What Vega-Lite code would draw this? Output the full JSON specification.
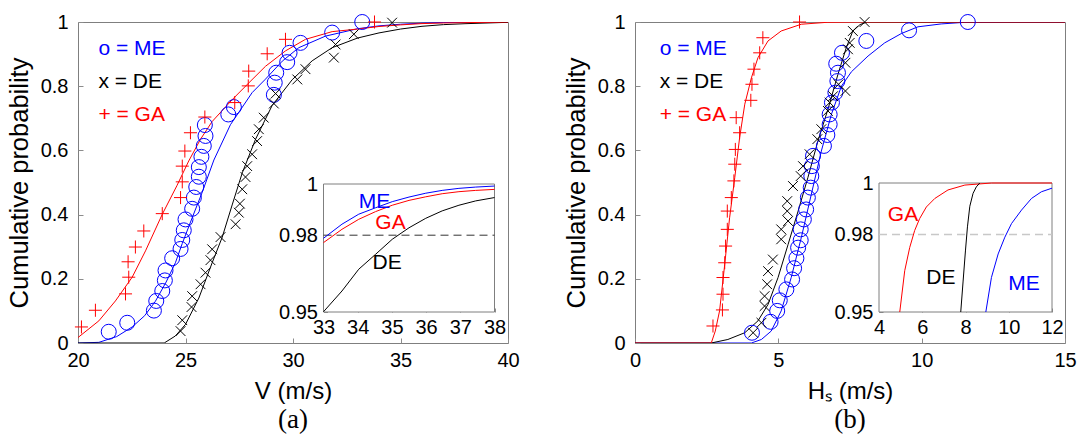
{
  "$schema": "https://vega.github.io/schema/vega-lite/v6.json",
  "background": "white",
  "padding": {"left": 6, "top": 11, "right": 0, "bottom": 0},
  "spacing": 43,
  "config": {
    "view": {"stroke": "#7f7f7f", "strokeWidth": 1},
    "axis": {"grid": false, "domain": false, "ticks": true, "tickSize": -5, "tickColor": "#8c8c8c", "labelFlush": false, "labelOverlap": false, "labelFont": "Liberation Sans", "labelFontSize": 20, "labelColor": "#000000", "titleFont": "Liberation Sans", "titleFontSize": 24, "titleFontWeight": "normal", "titleColor": "#000000"},
    "text": {"font": "Liberation Sans"}
  },
  "datasets": {
    "v_pts": [
      {"m":"ME","v":21.43,"p":0.035},{"m":"ME","v":22.29,"p":0.063},{"m":"ME","v":23.53,"p":0.101},{"m":"ME","v":23.64,"p":0.131},{"m":"ME","v":23.92,"p":0.162},{"m":"ME","v":24.04,"p":0.195},{"m":"ME","v":24.07,"p":0.226},{"m":"ME","v":24.38,"p":0.264},{"m":"ME","v":24.77,"p":0.293},{"m":"ME","v":24.85,"p":0.321},{"m":"ME","v":24.92,"p":0.351},{"m":"ME","v":25.0,"p":0.385},{"m":"ME","v":25.31,"p":0.418},{"m":"ME","v":25.39,"p":0.453},{"m":"ME","v":25.5,"p":0.486},{"m":"ME","v":25.62,"p":0.518},{"m":"ME","v":25.62,"p":0.548},{"m":"ME","v":25.74,"p":0.58},{"m":"ME","v":25.85,"p":0.614},{"m":"ME","v":25.93,"p":0.645},{"m":"ME","v":25.9,"p":0.679},{"m":"ME","v":26.99,"p":0.712},{"m":"ME","v":27.25,"p":0.735},{"m":"ME","v":29.11,"p":0.773},{"m":"ME","v":29.15,"p":0.811},{"m":"ME","v":29.22,"p":0.842},{"m":"ME","v":29.73,"p":0.875},{"m":"ME","v":29.84,"p":0.904},{"m":"ME","v":30.35,"p":0.935},{"m":"ME","v":31.82,"p":0.967},{"m":"ME","v":33.22,"p":1.0},
      {"m":"DE","v":24.77,"p":0.037},{"m":"DE","v":24.85,"p":0.071},{"m":"DE","v":25.28,"p":0.112},{"m":"DE","v":25.31,"p":0.146},{"m":"DE","v":25.7,"p":0.183},{"m":"DE","v":25.93,"p":0.219},{"m":"DE","v":26.16,"p":0.258},{"m":"DE","v":26.24,"p":0.292},{"m":"DE","v":26.63,"p":0.33},{"m":"DE","v":27.33,"p":0.37},{"m":"DE","v":27.48,"p":0.406},{"m":"DE","v":27.53,"p":0.434},{"m":"DE","v":27.64,"p":0.479},{"m":"DE","v":27.79,"p":0.517},{"m":"DE","v":27.87,"p":0.551},{"m":"DE","v":28.1,"p":0.588},{"m":"DE","v":28.33,"p":0.629},{"m":"DE","v":28.41,"p":0.666},{"m":"DE","v":28.64,"p":0.702},{"m":"DE","v":29.11,"p":0.746},{"m":"DE","v":29.19,"p":0.777},{"m":"DE","v":30.2,"p":0.821},{"m":"DE","v":30.58,"p":0.853},{"m":"DE","v":31.9,"p":0.889},{"m":"DE","v":31.98,"p":0.93},{"m":"DE","v":32.83,"p":0.962},{"m":"DE","v":34.61,"p":0.998},
      {"m":"GA","v":20.16,"p":0.05},{"m":"GA","v":20.81,"p":0.102},{"m":"GA","v":22.21,"p":0.153},{"m":"GA","v":22.36,"p":0.205},{"m":"GA","v":22.33,"p":0.253},{"m":"GA","v":22.67,"p":0.299},{"m":"GA","v":23.06,"p":0.349},{"m":"GA","v":23.92,"p":0.403},{"m":"GA","v":24.77,"p":0.453},{"m":"GA","v":24.85,"p":0.502},{"m":"GA","v":24.85,"p":0.551},{"m":"GA","v":24.97,"p":0.598},{"m":"GA","v":25.23,"p":0.655},{"m":"GA","v":25.9,"p":0.704},{"m":"GA","v":27.29,"p":0.749},{"m":"GA","v":27.92,"p":0.801},{"m":"GA","v":27.94,"p":0.847},{"m":"GA","v":28.8,"p":0.901},{"m":"GA","v":29.65,"p":0.946},{"m":"GA","v":33.79,"p":1.0}
    ],
    "v_cdf": [
      {"m":"ME","v":20,"p":0},{"m":"ME","v":20.97,"p":0.002},{"m":"ME","v":21.8,"p":0.02},{"m":"ME","v":22.52,"p":0.05},{"m":"ME","v":23.1,"p":0.085},{"m":"ME","v":23.6,"p":0.13},{"m":"ME","v":24.1,"p":0.19},{"m":"ME","v":24.53,"p":0.25},{"m":"ME","v":24.85,"p":0.31},{"m":"ME","v":25.31,"p":0.39},{"m":"ME","v":25.78,"p":0.47},{"m":"ME","v":26.32,"p":0.57},{"m":"ME","v":27.09,"p":0.68},{"m":"ME","v":28.1,"p":0.78},{"m":"ME","v":28.72,"p":0.822},{"m":"ME","v":29.5,"p":0.878},{"m":"ME","v":30.27,"p":0.92},{"m":"ME","v":31.51,"p":0.956},{"m":"ME","v":33,"p":0.979},{"m":"ME","v":34,"p":0.988},{"m":"ME","v":35,"p":0.993},{"m":"ME","v":36,"p":0.9964},{"m":"ME","v":37,"p":0.9983},{"m":"ME","v":38,"p":0.9992},{"m":"ME","v":40,"p":1},
      {"m":"DE","v":20,"p":0},{"m":"DE","v":24.01,"p":0},{"m":"DE","v":24.53,"p":0.022},{"m":"DE","v":25.0,"p":0.058},{"m":"DE","v":25.62,"p":0.14},{"m":"DE","v":26.24,"p":0.25},{"m":"DE","v":26.71,"p":0.33},{"m":"DE","v":27.17,"p":0.43},{"m":"DE","v":27.64,"p":0.53},{"m":"DE","v":28.26,"p":0.635},{"m":"DE","v":29.03,"p":0.74},{"m":"DE","v":29.96,"p":0.82},{"m":"DE","v":30.89,"p":0.879},{"m":"DE","v":31.82,"p":0.92},{"m":"DE","v":33,"p":0.95},{"m":"DE","v":34,"p":0.966},{"m":"DE","v":35,"p":0.978},{"m":"DE","v":36,"p":0.9866},{"m":"DE","v":37,"p":0.9918},{"m":"DE","v":38,"p":0.9947},{"m":"DE","v":40,"p":0.999},
      {"m":"GA","v":20,"p":0.017},{"m":"GA","v":20.97,"p":0.069},{"m":"GA","v":21.74,"p":0.131},{"m":"GA","v":22.52,"p":0.205},{"m":"GA","v":23.14,"p":0.287},{"m":"GA","v":23.92,"p":0.401},{"m":"GA","v":24.6,"p":0.49},{"m":"GA","v":25.15,"p":0.567},{"m":"GA","v":25.7,"p":0.635},{"m":"GA","v":26.24,"p":0.69},{"m":"GA","v":27.2,"p":0.76},{"m":"GA","v":27.94,"p":0.81},{"m":"GA","v":28.72,"p":0.862},{"m":"GA","v":29.65,"p":0.91},{"m":"GA","v":30.58,"p":0.946},{"m":"GA","v":31.82,"p":0.97},{"m":"GA","v":33,"p":0.978},{"m":"GA","v":34,"p":0.986},{"m":"GA","v":35,"p":0.991},{"m":"GA","v":36,"p":0.995},{"m":"GA","v":37,"p":0.997},{"m":"GA","v":38,"p":0.998},{"m":"GA","v":40,"p":1}
    ],
    "v_ins": [
      {"m":"ME","v":33.0,"p":0.9788},{"m":"ME","v":33.54,"p":0.9843},{"m":"ME","v":34.03,"p":0.9882},{"m":"ME","v":34.52,"p":0.9907},{"m":"ME","v":35.01,"p":0.9931},{"m":"ME","v":35.5,"p":0.9949},{"m":"ME","v":35.99,"p":0.9964},{"m":"ME","v":36.47,"p":0.9975},{"m":"ME","v":36.96,"p":0.9983},{"m":"ME","v":37.45,"p":0.9988},{"m":"ME","v":38.0,"p":0.9992},
      {"m":"GA","v":33.0,"p":0.9771},{"m":"GA","v":33.54,"p":0.9823},{"m":"GA","v":34.03,"p":0.9862},{"m":"GA","v":34.52,"p":0.9892},{"m":"GA","v":35.01,"p":0.9917},{"m":"GA","v":35.5,"p":0.9936},{"m":"GA","v":35.99,"p":0.995},{"m":"GA","v":36.47,"p":0.9962},{"m":"GA","v":36.96,"p":0.997},{"m":"GA","v":37.45,"p":0.9975},{"m":"GA","v":38.0,"p":0.9979},
      {"m":"DE","v":33.0,"p":0.9501},{"m":"DE","v":33.54,"p":0.9582},{"m":"DE","v":34.03,"p":0.9667},{"m":"DE","v":34.52,"p":0.9725},{"m":"DE","v":35.01,"p":0.9784},{"m":"DE","v":35.5,"p":0.9829},{"m":"DE","v":35.99,"p":0.9866},{"m":"DE","v":36.47,"p":0.9895},{"m":"DE","v":36.96,"p":0.9917},{"m":"DE","v":37.45,"p":0.9934},{"m":"DE","v":38.0,"p":0.9947}
    ],
    "h_pts": [
      {"m":"ME","h":4.08,"p":0.032},{"m":"ME","h":4.73,"p":0.066},{"m":"ME","h":4.96,"p":0.1},{"m":"ME","h":5.05,"p":0.133},{"m":"ME","h":5.28,"p":0.167},{"m":"ME","h":5.48,"p":0.198},{"m":"ME","h":5.55,"p":0.233},{"m":"ME","h":5.63,"p":0.264},{"m":"ME","h":5.69,"p":0.297},{"m":"ME","h":5.78,"p":0.32},{"m":"ME","h":5.78,"p":0.354},{"m":"ME","h":5.89,"p":0.385},{"m":"ME","h":5.97,"p":0.416},{"m":"ME","h":6.03,"p":0.453},{"m":"ME","h":6.13,"p":0.484},{"m":"ME","h":6.15,"p":0.52},{"m":"ME","h":6.17,"p":0.551},{"m":"ME","h":6.21,"p":0.583},{"m":"ME","h":6.59,"p":0.614},{"m":"ME","h":6.71,"p":0.648},{"m":"ME","h":6.79,"p":0.681},{"m":"ME","h":6.79,"p":0.712},{"m":"ME","h":6.87,"p":0.749},{"m":"ME","h":6.99,"p":0.78},{"m":"ME","h":7.06,"p":0.816},{"m":"ME","h":7.08,"p":0.842},{"m":"ME","h":7.02,"p":0.87},{"m":"ME","h":7.22,"p":0.904},{"m":"ME","h":8.07,"p":0.941},{"m":"ME","h":9.56,"p":0.974},{"m":"ME","h":11.61,"p":1.0},
      {"m":"DE","h":4.12,"p":0.032},{"m":"DE","h":4.41,"p":0.063},{"m":"DE","h":4.52,"p":0.115},{"m":"DE","h":4.52,"p":0.146},{"m":"DE","h":4.61,"p":0.183},{"m":"DE","h":4.64,"p":0.224},{"m":"DE","h":4.81,"p":0.26},{"m":"DE","h":5.1,"p":0.323},{"m":"DE","h":5.1,"p":0.354},{"m":"DE","h":5.34,"p":0.38},{"m":"DE","h":5.31,"p":0.411},{"m":"DE","h":5.31,"p":0.442},{"m":"DE","h":5.51,"p":0.489},{"m":"DE","h":5.78,"p":0.52},{"m":"DE","h":5.86,"p":0.551},{"m":"DE","h":6.09,"p":0.588},{"m":"DE","h":6.36,"p":0.635},{"m":"DE","h":6.5,"p":0.666},{"m":"DE","h":6.73,"p":0.723},{"m":"DE","h":6.79,"p":0.749},{"m":"DE","h":6.91,"p":0.769},{"m":"DE","h":7.1,"p":0.806},{"m":"DE","h":7.34,"p":0.785},{"m":"DE","h":7.34,"p":0.873},{"m":"DE","h":7.43,"p":0.915},{"m":"DE","h":7.49,"p":0.935},{"m":"DE","h":7.6,"p":0.972},{"m":"DE","h":8.01,"p":1.0},
      {"m":"GA","h":2.72,"p":0.053},{"m":"GA","h":3.05,"p":0.103},{"m":"GA","h":3.07,"p":0.152},{"m":"GA","h":3.07,"p":0.204},{"m":"GA","h":3.13,"p":0.25},{"m":"GA","h":3.16,"p":0.302},{"m":"GA","h":3.22,"p":0.354},{"m":"GA","h":3.22,"p":0.411},{"m":"GA","h":3.36,"p":0.453},{"m":"GA","h":3.45,"p":0.505},{"m":"GA","h":3.48,"p":0.557},{"m":"GA","h":3.5,"p":0.603},{"m":"GA","h":3.65,"p":0.655},{"m":"GA","h":3.53,"p":0.702},{"m":"GA","h":4.04,"p":0.756},{"m":"GA","h":4.08,"p":0.806},{"m":"GA","h":4.15,"p":0.853},{"m":"GA","h":4.35,"p":0.904},{"m":"GA","h":4.46,"p":0.951},{"m":"GA","h":5.74,"p":1.0}
    ],
    "h_cdf": [
      {"m":"ME","h":0,"p":0},{"m":"ME","h":4.06,"p":0},{"m":"ME","h":4.41,"p":0.011},{"m":"ME","h":4.75,"p":0.037},{"m":"ME","h":5.1,"p":0.1},{"m":"ME","h":5.45,"p":0.204},{"m":"ME","h":5.8,"p":0.328},{"m":"ME","h":6.15,"p":0.463},{"m":"ME","h":6.5,"p":0.598},{"m":"ME","h":6.85,"p":0.712},{"m":"ME","h":7.2,"p":0.8},{"m":"ME","h":7.55,"p":0.845},{"m":"ME","h":8.13,"p":0.894},{"m":"ME","h":8.71,"p":0.935},{"m":"ME","h":9.29,"p":0.964},{"m":"ME","h":9.87,"p":0.985},{"m":"ME","h":10.68,"p":0.994},{"m":"ME","h":11.5,"p":0.999},{"m":"ME","h":13,"p":1},{"m":"ME","h":15,"p":1},
      {"m":"DE","h":0,"p":0},{"m":"DE","h":2.66,"p":0},{"m":"DE","h":3.24,"p":0.011},{"m":"DE","h":3.83,"p":0.032},{"m":"DE","h":4.29,"p":0.069},{"m":"DE","h":4.64,"p":0.12},{"m":"DE","h":4.99,"p":0.204},{"m":"DE","h":5.34,"p":0.307},{"m":"DE","h":5.69,"p":0.411},{"m":"DE","h":6.03,"p":0.515},{"m":"DE","h":6.38,"p":0.629},{"m":"DE","h":6.73,"p":0.728},{"m":"DE","h":7.08,"p":0.837},{"m":"DE","h":7.37,"p":0.92},{"m":"DE","h":7.6,"p":0.972},{"m":"DE","h":7.85,"p":0.992},{"m":"DE","h":8.1,"p":1},{"m":"DE","h":15,"p":1},
      {"m":"GA","h":0,"p":0},{"m":"GA","h":2.66,"p":0},{"m":"GA","h":2.8,"p":0.037},{"m":"GA","h":2.95,"p":0.1},{"m":"GA","h":3.13,"p":0.245},{"m":"GA","h":3.3,"p":0.39},{"m":"GA","h":3.48,"p":0.515},{"m":"GA","h":3.65,"p":0.64},{"m":"GA","h":3.83,"p":0.744},{"m":"GA","h":4.06,"p":0.826},{"m":"GA","h":4.29,"p":0.889},{"m":"GA","h":4.64,"p":0.941},{"m":"GA","h":5.1,"p":0.972},{"m":"GA","h":5.8,"p":0.993},{"m":"GA","h":6.7,"p":0.999},{"m":"GA","h":8,"p":1},{"m":"GA","h":15,"p":1}
    ],
    "h_ins": [
      {"m":"GA","h":4.96,"p":0.95},{"m":"GA","h":5.19,"p":0.966},{"m":"GA","h":5.42,"p":0.975},{"m":"GA","h":5.65,"p":0.9816},{"m":"GA","h":5.88,"p":0.9862},{"m":"GA","h":6.19,"p":0.9907},{"m":"GA","h":6.58,"p":0.994},{"m":"GA","h":7.19,"p":0.9973},{"m":"GA","h":7.97,"p":0.9992},{"m":"GA","h":9.2,"p":1.0},{"m":"GA","h":12,"p":1.0},
      {"m":"DE","h":7.78,"p":0.95},{"m":"DE","h":7.89,"p":0.962},{"m":"DE","h":8.0,"p":0.974},{"m":"DE","h":8.09,"p":0.983},{"m":"DE","h":8.2,"p":0.991},{"m":"DE","h":8.35,"p":0.996},{"m":"DE","h":8.5,"p":0.9985},{"m":"DE","h":8.66,"p":1.0},
      {"m":"ME","h":8.94,"p":0.95},{"m":"ME","h":9.2,"p":0.9634},{"m":"ME","h":9.51,"p":0.9725},{"m":"ME","h":9.82,"p":0.979},{"m":"ME","h":10.13,"p":0.9843},{"m":"ME","h":10.59,"p":0.9895},{"m":"ME","h":11.05,"p":0.994},{"m":"ME","h":11.51,"p":0.9966},{"m":"ME","h":12.0,"p":0.998}
    ]
  },
  "hconcat": [
    {
      "width": 430,
      "height": 321,
      "title": {"text": "(a)", "orient": "bottom", "frame": "group", "font": "Liberation Serif", "fontSize": 27, "fontWeight": "normal", "color": "#000000", "offset": 4},
      "layer": [
        {
          "layer": [
            {
              "data": {"name": "v_cdf"},
              "mark": {"type": "line", "strokeWidth": 1, "clip": true},
              "encoding": {
                "x": {"field": "v", "type": "quantitative", "scale": {"domain": [20, 40], "nice": false, "zero": false}, "axis": {"values": [20, 25, 30, 35, 40], "title": "V (m/s)", "labelPadding": 12, "titlePadding": 9}},
                "y": {"field": "p", "type": "quantitative", "scale": {"domain": [0, 1], "nice": false, "zero": false}, "axis": {"values": [0, 0.2, 0.4, 0.6, 0.8, 1], "format": "~g", "title": "Cumulative probability", "titleFontSize": 25.5, "labelPadding": 15, "titlePadding": 8}},
                "color": {"field": "m", "type": "nominal", "scale": {"domain": ["ME", "DE", "GA"], "range": ["#0000ff", "#000000", "#ff0000"]}, "legend": null}
              }
            },
            {
              "data": {"name": "v_pts"},
              "mark": {"type": "point", "filled": false, "strokeWidth": 1, "opacity": 1, "size": 225},
              "encoding": {
                "x": {"field": "v", "type": "quantitative"},
                "y": {"field": "p", "type": "quantitative"},
                "color": {"field": "m", "type": "nominal", "legend": null},
                "shape": {"field": "m", "type": "nominal", "scale": {"domain": ["ME", "DE", "GA"], "range": ["circle", "M-0.65,-0.65L0.65,0.65M-0.65,0.65L0.65,-0.65", "M-0.87,0L0.87,0M0,-0.87L0,0.87"]}, "legend": null}
              }
            },
            {
              "data": {"values": [{}]},
              "mark": {"type": "text", "text": "o = ME", "align": "left", "baseline": "middle", "fontSize": 21, "color": "#0000ff"},
              "encoding": {"x": {"datum": 20.95, "type": "quantitative"}, "y": {"datum": 0.916, "type": "quantitative"}}
            },
            {
              "data": {"values": [{}]},
              "mark": {"type": "text", "text": "x = DE", "align": "left", "baseline": "middle", "fontSize": 21, "color": "#000000"},
              "encoding": {"x": {"datum": 20.95, "type": "quantitative"}, "y": {"datum": 0.813, "type": "quantitative"}}
            },
            {
              "data": {"values": [{}]},
              "mark": {"type": "text", "text": "+ = GA", "align": "left", "baseline": "middle", "fontSize": 21, "color": "#ff0000"},
              "encoding": {"x": {"datum": 20.95, "type": "quantitative"}, "y": {"datum": 0.71, "type": "quantitative"}}
            }
          ]
        },
        {
          "layer": [
            {
              "data": {"values": [{}]},
              "mark": {"type": "rect", "fill": "#ffffff", "stroke": "#7f7f7f", "strokeWidth": 1},
              "encoding": {
                "x": {"datum": 33, "type": "quantitative", "scale": {"domain": [33, 38], "range": [245.5, 416.5], "nice": false, "zero": false}, "axis": {"orient": "bottom", "offset": -31, "values": [33, 34, 35, 36, 37, 38], "format": "~g", "title": null, "labelPadding": 9, "tickSize": -4}},
                "x2": {"datum": 38},
                "y": {"datum": 0.95, "type": "quantitative", "scale": {"domain": [0.95, 1], "range": [290, 162], "nice": false, "zero": false}, "axis": {"orient": "left", "offset": -245.5, "values": [0.95, 0.98, 1], "format": "~g", "title": null, "labelPadding": 10, "tickSize": -4}},
                "y2": {"datum": 1}
              }
            },
            {
              "data": {"values": [{}]},
              "mark": {"type": "rule", "color": "#333333", "strokeDash": [8, 5], "strokeWidth": 1},
              "encoding": {"x": {"datum": 33, "type": "quantitative"}, "x2": {"datum": 38}, "y": {"datum": 0.98, "type": "quantitative"}}
            },
            {
              "data": {"name": "v_ins"},
              "mark": {"type": "line", "strokeWidth": 1},
              "encoding": {
                "x": {"field": "v", "type": "quantitative"},
                "y": {"field": "p", "type": "quantitative"},
                "color": {"field": "m", "type": "nominal", "legend": null}
              }
            },
            {
              "data": {"values": [{}]},
              "mark": {"type": "text", "text": "ME", "align": "center", "baseline": "middle", "fontSize": 21, "color": "#0000ff"},
              "encoding": {"x": {"datum": 34.49, "type": "quantitative"}, "y": {"datum": 0.9931, "type": "quantitative"}}
            },
            {
              "data": {"values": [{}]},
              "mark": {"type": "text", "text": "GA", "align": "center", "baseline": "middle", "fontSize": 21, "color": "#ff0000"},
              "encoding": {"x": {"datum": 34.96, "type": "quantitative"}, "y": {"datum": 0.9849, "type": "quantitative"}}
            },
            {
              "data": {"values": [{}]},
              "mark": {"type": "text", "text": "DE", "align": "center", "baseline": "middle", "fontSize": 21, "color": "#000000"},
              "encoding": {"x": {"datum": 34.86, "type": "quantitative"}, "y": {"datum": 0.9691, "type": "quantitative"}}
            }
          ]
        }
      ],
      "resolve": {"scale": {"x": "independent", "y": "independent"}, "axis": {"x": "independent", "y": "independent"}}
    },
    {
      "width": 430,
      "height": 321,
      "title": {"text": "(b)", "orient": "bottom", "frame": "group", "font": "Liberation Serif", "fontSize": 27, "fontWeight": "normal", "color": "#000000", "offset": 4},
      "layer": [
        {
          "layer": [
            {
              "data": {"name": "h_cdf"},
              "mark": {"type": "line", "strokeWidth": 1, "clip": true},
              "encoding": {
                "x": {"field": "h", "type": "quantitative", "scale": {"domain": [0, 15], "nice": false, "zero": false}, "axis": {"values": [0, 5, 10, 15], "title": "Hₛ (m/s)", "labelPadding": 12, "titlePadding": 9}},
                "y": {"field": "p", "type": "quantitative", "scale": {"domain": [0, 1], "nice": false, "zero": false}, "axis": {"values": [0, 0.2, 0.4, 0.6, 0.8, 1], "format": "~g", "title": "Cumulative probability", "titleFontSize": 25.5, "labelPadding": 15, "titlePadding": 8}},
                "color": {"field": "m", "type": "nominal", "scale": {"domain": ["ME", "DE", "GA"], "range": ["#0000ff", "#000000", "#ff0000"]}, "legend": null}
              }
            },
            {
              "data": {"name": "h_pts"},
              "mark": {"type": "point", "filled": false, "strokeWidth": 1, "opacity": 1, "size": 225},
              "encoding": {
                "x": {"field": "h", "type": "quantitative"},
                "y": {"field": "p", "type": "quantitative"},
                "color": {"field": "m", "type": "nominal", "legend": null},
                "shape": {"field": "m", "type": "nominal", "scale": {"domain": ["ME", "DE", "GA"], "range": ["circle", "M-0.65,-0.65L0.65,0.65M-0.65,0.65L0.65,-0.65", "M-0.87,0L0.87,0M0,-0.87L0,0.87"]}, "legend": null}
              }
            },
            {
              "data": {"values": [{}]},
              "mark": {"type": "text", "text": "o = ME", "align": "left", "baseline": "middle", "fontSize": 21, "color": "#0000ff"},
              "encoding": {"x": {"datum": 0.86, "type": "quantitative"}, "y": {"datum": 0.916, "type": "quantitative"}}
            },
            {
              "data": {"values": [{}]},
              "mark": {"type": "text", "text": "x = DE", "align": "left", "baseline": "middle", "fontSize": 21, "color": "#000000"},
              "encoding": {"x": {"datum": 0.86, "type": "quantitative"}, "y": {"datum": 0.813, "type": "quantitative"}}
            },
            {
              "data": {"values": [{}]},
              "mark": {"type": "text", "text": "+ = GA", "align": "left", "baseline": "middle", "fontSize": 21, "color": "#ff0000"},
              "encoding": {"x": {"datum": 0.86, "type": "quantitative"}, "y": {"datum": 0.71, "type": "quantitative"}}
            }
          ]
        },
        {
          "layer": [
            {
              "data": {"values": [{}]},
              "mark": {"type": "rect", "fill": "#ffffff", "stroke": "#7f7f7f", "strokeWidth": 1},
              "encoding": {
                "x": {"datum": 4, "type": "quantitative", "scale": {"domain": [4, 12], "range": [244, 417], "nice": false, "zero": false}, "axis": {"orient": "bottom", "offset": -31, "values": [4, 6, 8, 10, 12], "format": "~g", "title": null, "labelPadding": 9, "tickSize": -4}},
                "x2": {"datum": 12},
                "y": {"datum": 0.95, "type": "quantitative", "scale": {"domain": [0.95, 1], "range": [290, 161], "nice": false, "zero": false}, "axis": {"orient": "left", "offset": -244, "values": [0.95, 0.98, 1], "format": "~g", "title": null, "labelPadding": 10, "tickSize": -4}},
                "y2": {"datum": 1}
              }
            },
            {
              "data": {"values": [{}]},
              "mark": {"type": "rule", "color": "#c8c8c8", "strokeDash": [8, 5], "strokeWidth": 1.5},
              "encoding": {"x": {"datum": 4, "type": "quantitative"}, "x2": {"datum": 12}, "y": {"datum": 0.98, "type": "quantitative"}}
            },
            {
              "data": {"name": "h_ins"},
              "mark": {"type": "line", "strokeWidth": 1},
              "encoding": {
                "x": {"field": "h", "type": "quantitative"},
                "y": {"field": "p", "type": "quantitative"},
                "color": {"field": "m", "type": "nominal", "legend": null}
              }
            },
            {
              "data": {"values": [{}]},
              "mark": {"type": "text", "text": "GA", "align": "center", "baseline": "middle", "fontSize": 21, "color": "#ff0000"},
              "encoding": {"x": {"datum": 5.11, "type": "quantitative"}, "y": {"datum": 0.9876, "type": "quantitative"}}
            },
            {
              "data": {"values": [{}]},
              "mark": {"type": "text", "text": "DE", "align": "center", "baseline": "middle", "fontSize": 21, "color": "#000000"},
              "encoding": {"x": {"datum": 6.86, "type": "quantitative"}, "y": {"datum": 0.963, "type": "quantitative"}}
            },
            {
              "data": {"values": [{}]},
              "mark": {"type": "text", "text": "ME", "align": "center", "baseline": "middle", "fontSize": 21, "color": "#0000ff"},
              "encoding": {"x": {"datum": 10.71, "type": "quantitative"}, "y": {"datum": 0.9609, "type": "quantitative"}}
            }
          ]
        }
      ],
      "resolve": {"scale": {"x": "independent", "y": "independent"}, "axis": {"x": "independent", "y": "independent"}}
    }
  ]
}
